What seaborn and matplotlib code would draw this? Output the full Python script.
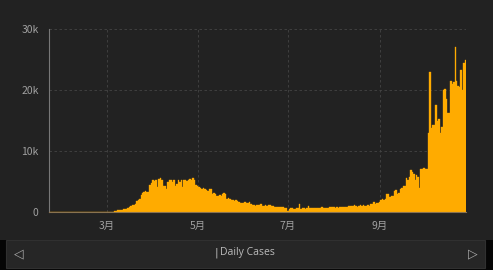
import numpy as np
import pandas as pd
import matplotlib
matplotlib.use("Agg")
import matplotlib.pyplot as plt
from matplotlib.patches import Rectangle
import seaborn as sns

# ---- data (daily cases, starting 2020-01-22) ----
start_date = "2020-01-22"
jan_feb = [0, 0, 0, 0, 0, 0, 0, 0, 0, 2,
           0, 0, 0, 0, 0, 1, 0, 0, 1, 4,
           0, 0, 0, 0, 0, 0, 0, 0, 0, 0, 0, 0, 0, 0, 0, 0, 2, 5, 3]
mar = [20, 30, 40, 60, 80, 150, 200, 250, 280, 320, 400, 480, 520, 500, 600,
       800, 1050, 1100, 1150, 1300, 1800, 1950, 2100, 2800, 3100, 3300, 3400,
       3200, 3300, 4400, 4800]
apr = [5200, 5100, 5300, 4100, 5400, 5500, 5300, 4300, 4200, 3800, 4900, 5300,
       5200, 5000, 5300, 4200, 4600, 5200, 5000, 5200, 4100, 5300, 5200, 5100,
       5300, 5400, 5200, 5500, 5300, 4400]
may = [4300, 4100, 3900, 3800, 3900, 3800, 3600, 3500, 3800, 3700, 3000, 3100,
       2900, 2700, 2700, 2800, 2600, 3000, 3100, 2900, 2200, 2300, 2100, 2000,
       1900, 1800, 1950, 1850, 1700, 1400, 1450]
jun = [1500, 1600, 1550, 1500, 1650, 1300, 1200, 1100, 1050, 1200, 1150, 1100,
       1250, 1000, 950, 1100, 1050, 1200, 1100, 1000, 950, 850, 900, 800, 850,
       900, 750, 800, 700, 650]
jul = [200, 550, 600, 650, 550, 500, 600, 650, 1300, 550, 600, 650, 550, 600,
       1000, 650, 700, 700, 650, 700, 600, 650, 700, 750, 650, 700, 650, 700,
       750, 800, 850]
aug = [750, 700, 750, 700, 800, 850, 900, 800, 850, 900, 1000, 950, 1050, 1000,
       1100, 950, 900, 1050, 1100, 1050, 1150, 1000, 1050, 1100, 1050, 1300,
       1350, 1600, 1300, 1450, 1500]
sep = [1700, 2000, 2100, 1900, 2200, 3000, 2900, 2400, 2600, 2700, 3500, 3600,
       3000, 3100, 3800, 4000, 4300, 4200, 5500, 5300, 5800, 6900, 6600, 6300,
       5200, 6000, 5700, 4000, 7100, 7100]
oct_ = [7200, 7000, 7100, 13000, 23000, 13800, 14300, 14200, 17500, 15000,
        15200, 13000, 13900, 20000, 20100, 18500, 16200, 16300, 21400, 21000,
        21300, 27000, 21400, 20700, 20500, 23300, 20000, 24500, 24900]

month_tick_days = [39, 100, 161, 223]
month_labels = ["3月", "5月", "7月", "9月"]
y_ticks = [0, 10000, 20000, 30000]
y_labels = ["0", "10k", "20k", "30k"]
nav_title = "Daily Cases"

cases = jan_feb + mar + apr + may + jun + jul + aug + sep + oct_
df = pd.DataFrame({
    "date": pd.date_range(start_date, periods=len(cases), freq="D"),
    "day": np.arange(len(cases)),
    "cases": cases,
})

# ---- style ----
BG = "#222222"
BAR = "#ffab00"
sns.set_theme(style="dark")
plt.rcParams["font.family"] = ["Noto Sans CJK JP", "DejaVu Sans"]

W, H = 493, 270
fig = plt.figure(figsize=(W / 100, H / 100), dpi=100, facecolor=BG)
ax = fig.add_axes([49 / W, 58 / H, (466.5 - 49) / W, 183 / H])
ax.set_facecolor(BG)

sns.barplot(data=df, x="day", y="cases", native_scale=True, width=1.0,
            color=BAR, saturation=1, linewidth=0.25, edgecolor=BAR,
            errorbar=None, ax=ax)

ax.set_xlim(-0.3, 281.6)
ax.set_ylim(0, 30000)
ax.set_xticks(month_tick_days)
ax.set_xticklabels(month_labels)
ax.set_yticks(y_ticks)
ax.set_yticklabels(y_labels)
ax.set_xlabel("")
ax.set_ylabel("")

ax.set_axisbelow(True)
ax.grid(True, color="#444444", linestyle=(0, (3, 3)), linewidth=0.6)

for s in ["top", "right"]:
    ax.spines[s].set_visible(False)
ax.spines["left"].set_color("#777777")
ax.spines["left"].set_linewidth(0.8)
ax.spines["bottom"].set_color("#8a7350")
ax.spines["bottom"].set_linewidth(0.8)

ax.tick_params(axis="x", colors="#9a9a9a", labelsize=7.5, length=2.5,
               pad=4.0, width=0.6)
ax.tick_params(axis="y", colors="#9a9a9a", labelsize=7.5, length=2,
               pad=5.5, width=0.6)
for t in ax.get_xticklabels() + ax.get_yticklabels():
    t.set_color("#a0a0a0")

# ---- navigation bar at the bottom ----
fig.add_artist(Rectangle((0, 0), 1, 30 / H, transform=fig.transFigure,
                         facecolor="#050505", edgecolor="none"))
fig.add_artist(Rectangle((6 / W, 2 / H), (485 - 6) / W, 28 / H,
                         transform=fig.transFigure, facecolor="#262626",
                         edgecolor="#303030", linewidth=0.8))
fig.text(19 / W, 1 - 254 / H, "◁", color="#aaaaaa", fontsize=9,
         ha="center", va="center", family=["DejaVu Sans"])
fig.text(473 / W, 1 - 254 / H, "▷", color="#aaaaaa", fontsize=9,
         ha="center", va="center", family=["DejaVu Sans"])
fig.text(216 / W, 1 - 253 / H, "|", color="#bbbbbb", fontsize=8,
         ha="center", va="center", family=["DejaVu Sans"])
fig.text(247 / W, 1 - 253 / H, nav_title, color="#bbbbbb", fontsize=7.5,
         ha="center", va="center", family=["Open Sans", "DejaVu Sans"])

fig.savefig("out.png", dpi=100, facecolor=BG)
